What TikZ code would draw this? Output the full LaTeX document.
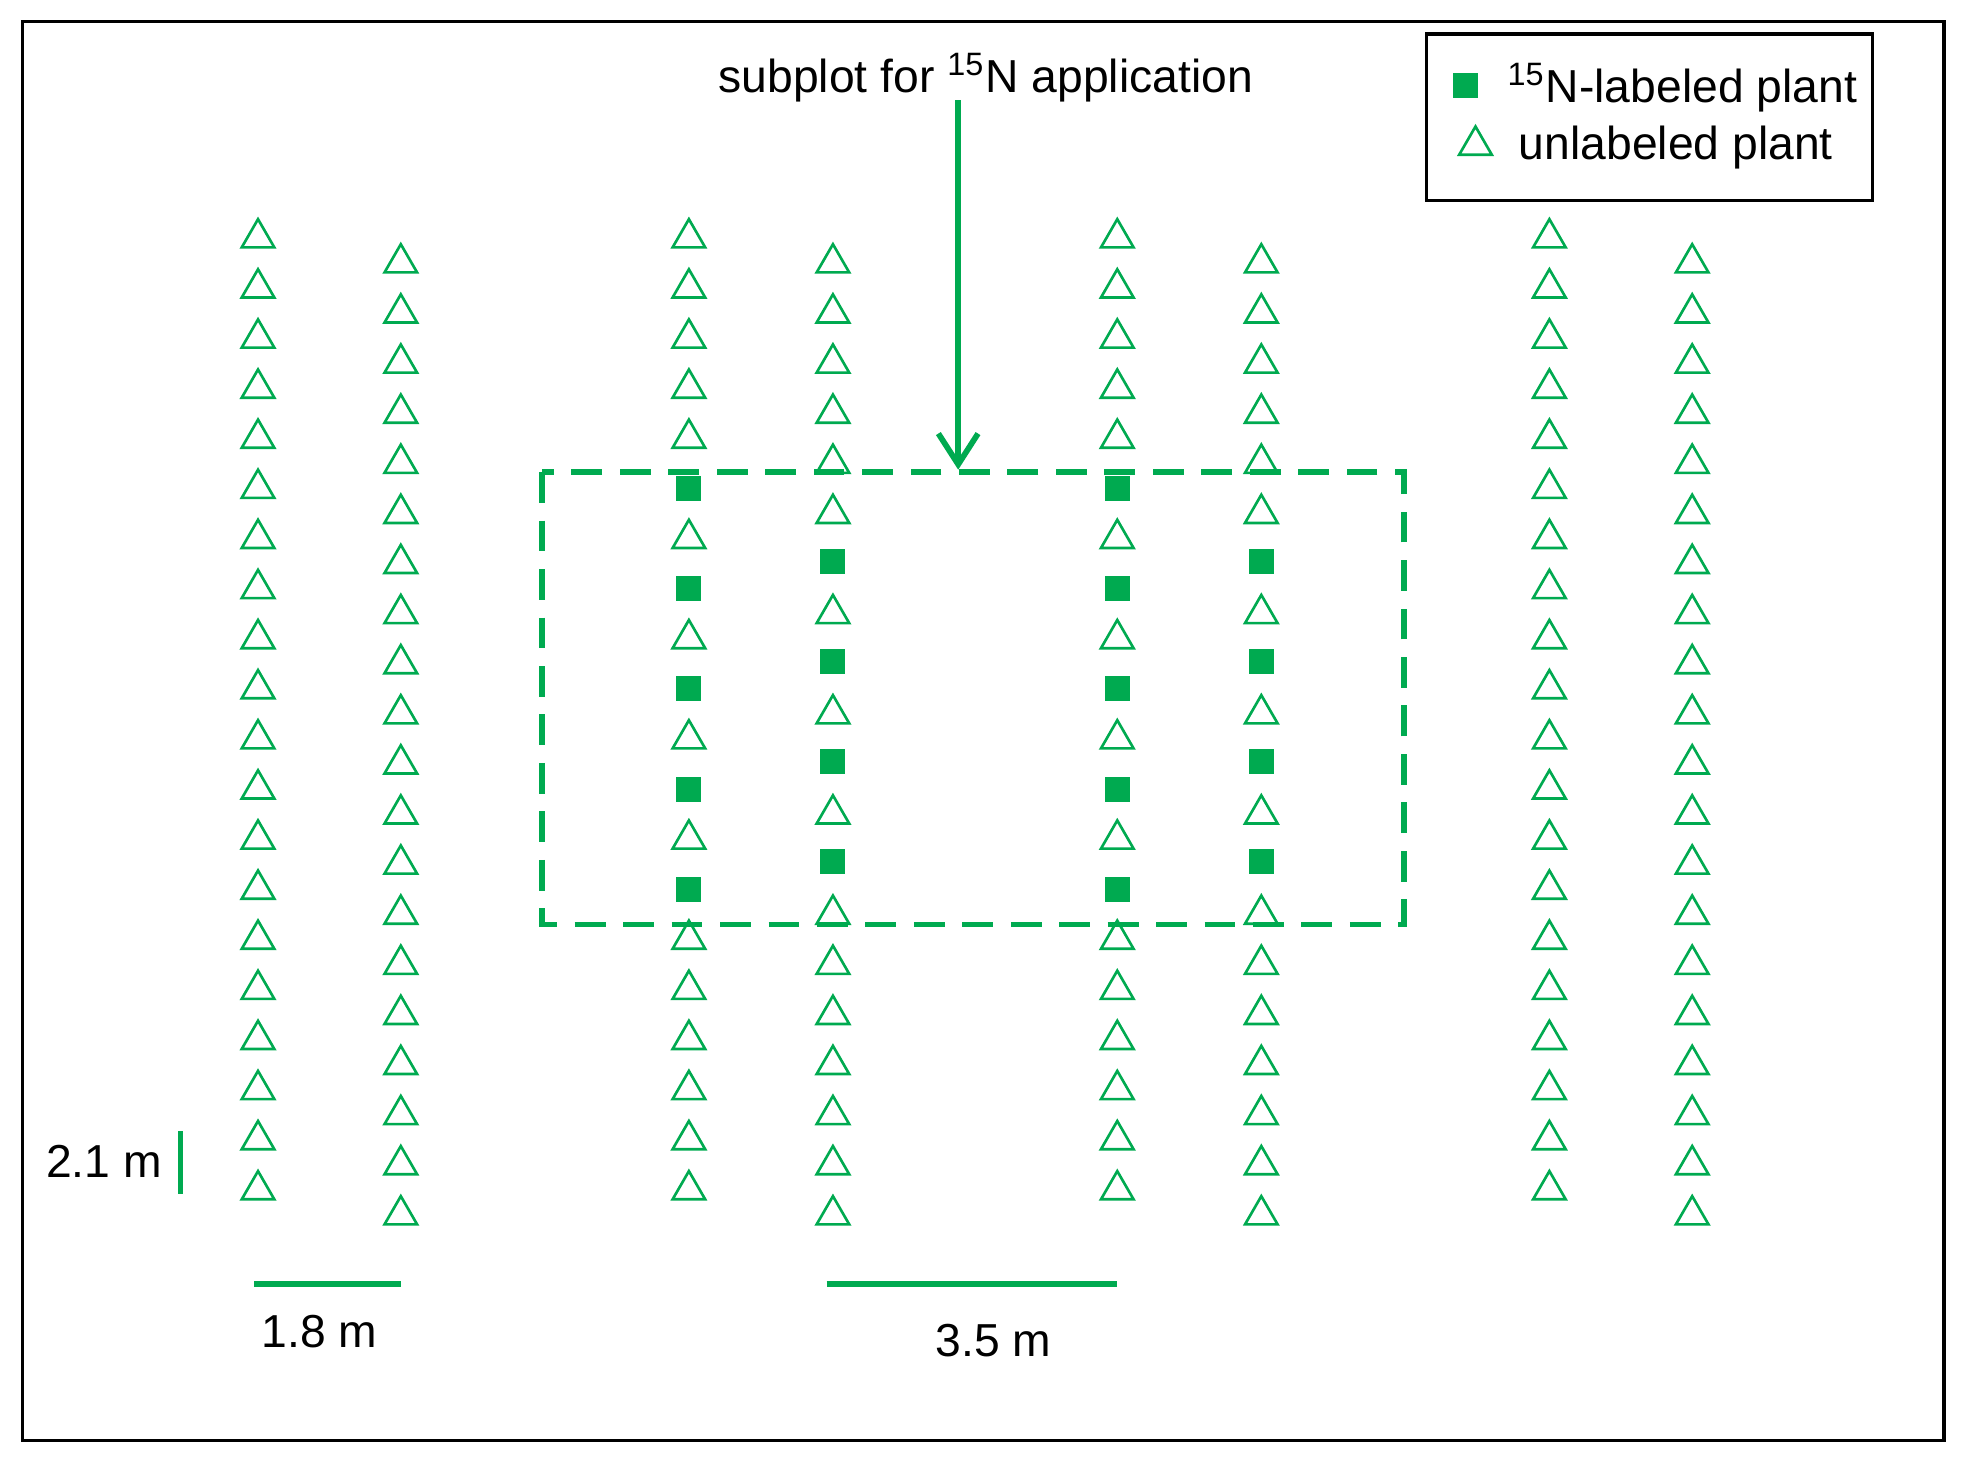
\documentclass[tikz,border=0pt]{standalone}
\usepackage{fontspec}
\setmainfont{Liberation Sans}
\usetikzlibrary{shapes.geometric,arrows.meta}
\definecolor{pg}{RGB}{0,170,80}
\tikzset{
 tri/.style={regular polygon,regular polygon sides=3,draw=pg,line width=0.6pt,minimum size=0.3cm,inner sep=0pt},
 sq/.style={rectangle,fill=pg,minimum size=0.2cm,inner sep=0pt},
 lbl/.style={font=\fontsize{10.5}{12}\selectfont,inner sep=0pt}
}
\begin{document}
\begin{tikzpicture}[x=0.01cm,y=-0.01cm]
\useasboundingbox (0,0) rectangle (1568,1167);
\draw[line width=0.8pt] (18,17) rectangle (1552,1150);
% odd columns
\foreach \c/\lab in {206/0,550/1,892/1,1237/0}{
  \foreach \r in {0,...,19}{
    \pgfmathtruncatemacro{\yy}{190+40*\r}
    \pgfmathtruncatemacro{\isl}{\lab==1 && (\r==5 || \r==7 || \r==9 || \r==11 || \r==13)}
    \ifnum\isl=1 \node[sq] (p\c-\r) at (\c,\yy) {};
    \else \node[tri] (p\c-\r) at (\c,\yy) {};\fi
  }}
\foreach \c/\lab in {320/0,665/1,1007/1,1351/0}{
  \foreach \r in {0,...,19}{
    \pgfmathtruncatemacro{\yy}{210+40*\r}
    \pgfmathtruncatemacro{\isl}{\lab==1 && (\r==6 || \r==8 || \r==10 || \r==12)}
    \ifnum\isl=1 \node[sq] (p\c-\r) at (\c,\yy-2) {};
    \else \node[tri] (p\c-\r) at (\c,\yy) {};\fi
  }}
\draw[pg,dashed,line width=1.3pt,dash pattern=on 7pt off 4pt] (433,377) rectangle (1121,738);
\node[lbl] (sub) at (787,62) {subplot for \textsuperscript{15}N application};
\coordinate (boxtop) at (765,375);
\draw[pg,line width=1.3pt,-{Straight Barb[length=7pt,width=9pt]}] (765,80) -- (boxtop);
% legend
\draw[line width=0.8pt] (1139,27) rectangle (1495,160);
\node[sq] (lsq) at (1170,68) {};
\node[tri] (ltri) at (1178,116) {};
\node[lbl,anchor=west] (l1) at (1203,70) {\textsuperscript{15}N-labeled plant};
\node[lbl,anchor=west] (l2) at (1212,118) {unlabeled plant};
% scale bars
\coordinate (a1) at (144,903); \coordinate (a2) at (144,953);
\draw[pg,line width=1.3pt] (a1) -- (a2);
\node[lbl,anchor=east] (t21) at (130,927) {2.1 m};
\coordinate (b1) at (203,1025); \coordinate (b2) at (320,1025);
\draw[pg,line width=1.3pt] (b1) -- (b2);
\node[lbl] (t18) at (255,1063) {1.8 m};
\coordinate (c1) at (660,1025); \coordinate (c2) at (892,1025);
\draw[pg,line width=1.3pt] (c1) -- (c2);
\node[lbl] (t35) at (793,1070) {3.5 m};
\end{tikzpicture}
\end{document}
